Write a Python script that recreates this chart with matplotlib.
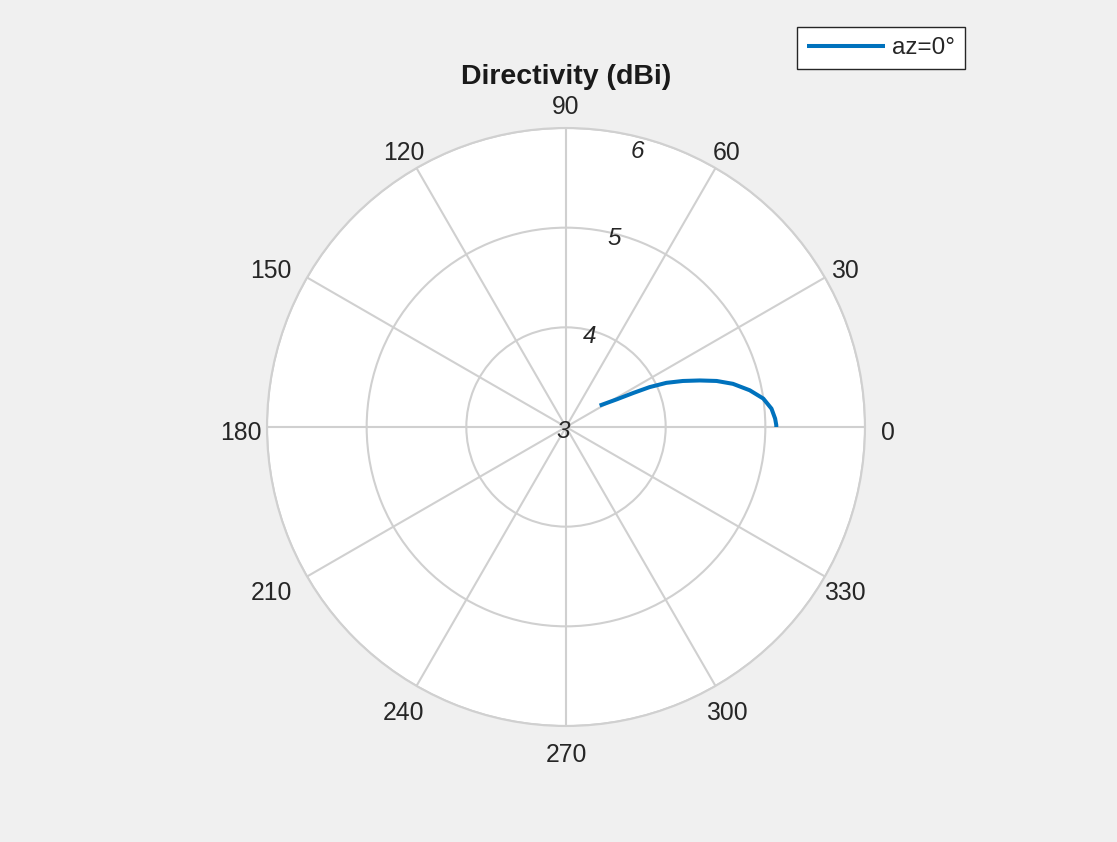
import numpy as np
import matplotlib.pyplot as plt

plt.rcParams['font.family'] = ['Liberation Sans', 'DejaVu Sans']

# elevation angle (deg) and directivity (dBi)
elev_deg = [0.0, 0.5, 2.3, 5.1, 8.2, 11.3, 14.5, 17.0, 19.2, 21.5,
            23.75, 25.5, 26.8, 28.6, 32.5]
directivity = [5.11, 5.11, 5.10, 5.07, 5.00, 4.88, 4.73, 4.58, 4.42, 4.26,
               4.10, 3.93, 3.76, 3.58, 3.40]

r_ticks = [3, 4, 5, 6]
theta_ticks = list(range(0, 360, 30))
series_label = 'az=0°'

grid_col = '#d0d0d0'
line_col = '#0072bd'
txt_col = '#262626'

fig = plt.figure(figsize=(11.17, 8.42), dpi=100, facecolor='#f0f0f0')
W, H = 1117, 842
cx, cy, R = 566, 427, 299
ax = fig.add_axes([(cx - R) / W, (H - cy - R) / H, 2 * R / W, 2 * R / H],
                  projection='polar')
ax.set_facecolor('white')

ax.plot(np.deg2rad(elev_deg), directivity, color=line_col, lw=2.9,
        label=series_label, solid_capstyle='butt', solid_joinstyle='round')

ax.set_rlim(r_ticks[0], r_ticks[-1])
ax.set_rticks(r_ticks)
ax.set_yticklabels([])
ax.set_xticks(np.deg2rad(theta_ticks))
ax.set_xticklabels([])
ax.grid(True, color=grid_col, lw=1.5)
ax.spines['polar'].set_color(grid_col)
ax.spines['polar'].set_linewidth(1.5)

# angle labels, placed like MATLAB's polarpattern (pixel offsets from centre)
theta_lab_off = [(322, -5.5), (279, 156.5), (161, 274.5), (0, 319.5),
                 (-162, 274.5), (-295, 156.5), (-325, -5.5), (-295, -165.5),
                 (-162, -286.5), (0, -327.5), (161, -286.5), (279, -165.5)]
for t, off in zip(theta_ticks, theta_lab_off):
    ax.annotate(str(t), xy=(0, r_ticks[0]), xytext=off,
                textcoords='offset pixels', ha='center', va='center',
                fontsize=17.8, color=txt_col, annotation_clip=False)

# radial tick labels along 75.5 deg, italic
rl_ang = np.deg2rad(75.5)
for rv, rpos in zip(r_ticks[1:], [3.94, 4.95, 5.86]):
    ax.text(rl_ang, rpos, str(rv), fontsize=17.5, style='italic',
            ha='center', va='center', color=txt_col)
ax.annotate(str(r_ticks[0]), xy=(0, r_ticks[0]), xytext=(-3, -5),
            textcoords='offset pixels', ha='center', va='center',
            fontsize=17.5, style='italic', color=txt_col)

ax.set_title('Directivity (dBi)', fontsize=20.5, fontweight='bold', y=1.0,
             pad=32, color='#1a1a1a')

leg = fig.legend(loc='upper left', bbox_to_anchor=(797 / W, 1 - 27 / H),
                 borderaxespad=0, fontsize=17.5, handlelength=3.2,
                 handletextpad=0.3, borderpad=0.42, fancybox=False,
                 framealpha=1, edgecolor=txt_col)
leg.get_frame().set_linewidth(1.0)
for t in leg.get_texts():
    t.set_color(txt_col)

fig.savefig('out.png', dpi=100, facecolor=fig.get_facecolor())
